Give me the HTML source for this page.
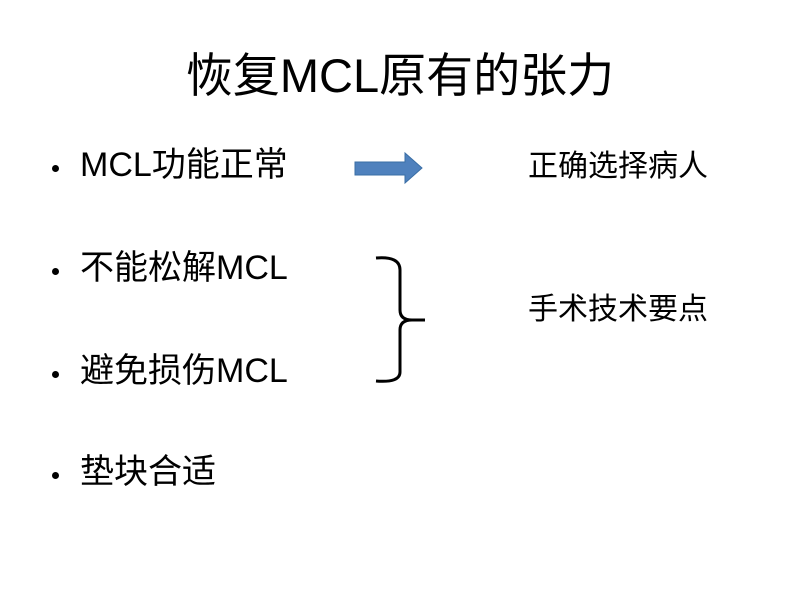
<!DOCTYPE html>
<html><head><meta charset="utf-8"><style>
body{margin:0;width:800px;height:600px;background:#fff;position:relative;overflow:hidden;font-family:"Liberation Sans","Noto Sans CJK SC",sans-serif;color:#000}
.t{position:absolute;white-space:nowrap;line-height:1}
.title{left:0;width:800px;text-align:center;top:52px;font-size:47px}
.b{left:80px;font-size:34px}
.d{position:absolute;left:52px;width:7px;height:7px;border-radius:50%;background:#000}
.r{left:528px;font-size:30px}
</style></head><body>
<div class="t title">恢复MCL原有的张力</div>
<div class="d" style="top:165px"></div><div class="t b" style="top:148px">MCL功能正常</div>
<div class="d" style="top:268px"></div><div class="t b" style="top:251px">不能松解MCL</div>
<div class="d" style="top:371px"></div><div class="t b" style="top:354px">避免损伤MCL</div>
<div class="d" style="top:472px"></div><div class="t b" style="top:455px">垫块合适</div>
<div class="t r" style="top:152px">正确选择病人</div>
<div class="t r" style="top:295px">手术技术要点</div>
<svg width="800" height="600" style="position:absolute;left:0;top:0">
<polygon points="355,162 405,162 405,153 422,168 405,183 405,175 355,175" fill="#4f81bd" stroke="#3a6ea5" stroke-width="1"/>
<path d="M376,258 Q400,256 400,270 L400,310 Q400,320 412,320 L425,320 M412,320 Q400,320 400,330 L400,372 Q400,383 376,381" fill="none" stroke="#000" stroke-width="3"/>
</svg>
</body></html>
